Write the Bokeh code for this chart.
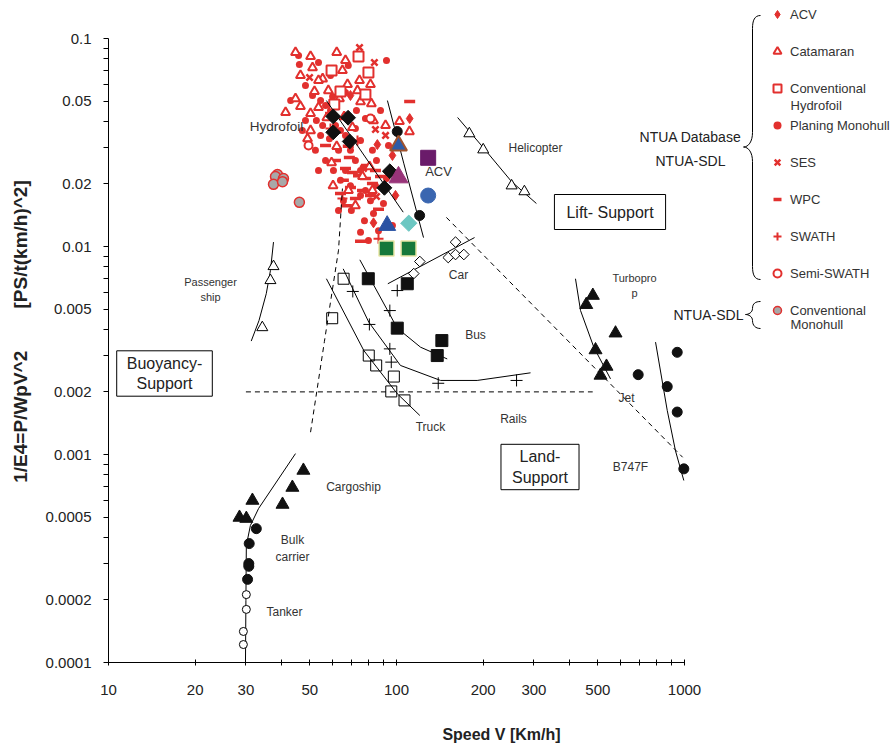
import math
from bokeh.plotting import figure
from bokeh.models import Range1d, LinearScale, Label, Legend, LegendItem, FixedTicker
from bokeh.embed import file_html
from bokeh.resources import INLINE

FONT = "Liberation Sans"
RED = "#E2302E"
INK = "#333333"

# ---------------- axis ticks ----------------
x_ticks = [10, 20, 30, 40, 50, 60, 70, 80, 90, 100, 200, 300, 400, 500, 600, 700, 800, 900, 1000]
x_tick_labels = ["10", "20", "30", "", "50", "", "", "", "", "100", "200", "300", "", "500", "", "", "", "", "1000"]
y_ticks = [0.0001, 0.0002, 0.0003, 0.0004, 0.0005, 0.0006, 0.0007, 0.0008, 0.0009,
           0.001, 0.002, 0.003, 0.004, 0.005, 0.006, 0.007, 0.008, 0.009,
           0.01, 0.02, 0.03, 0.04, 0.05, 0.06, 0.07, 0.08, 0.09, 0.1]
y_tick_labels = ["0.0001", "0.0002", "", "", "0.0005", "", "", "", "",
                 "0.001", "0.002", "", "", "0.005", "", "", "", "",
                 "0.01", "0.02", "", "", "0.05", "", "", "", "", "0.1"]

# ---------------- NTUA database (red) ----------------
cat_x = [44.6, 50.3, 62.0, 51.1, 64.9, 74.4, 81.2, 51.9, 67.6, 44.6, 41.2, 50.3, 53.6, 75.0, 81.8, 73.2, 83.2,
         50.3, 102.4, 110.9, 59.5, 80.6, 68.1, 46.4, 55.4, 58.0, 46.4, 65.8, 70.3, 49.1, 62.0, 57.3, 76.2, 82.5,
         72.0, 60.2, 53.6, 66.5, 91.6, 63.4]
cat_y = [0.0857, 0.0820, 0.0857, 0.0724, 0.0702, 0.0628, 0.0601, 0.0556, 0.0601, 0.0514, 0.0441, 0.0436, 0.0466,
         0.0497, 0.0486, 0.0562, 0.0403, 0.0361, 0.0399, 0.0357, 0.0253, 0.0242, 0.0186, 0.0664, 0.0640, 0.0562,
         0.0471, 0.0421, 0.0374, 0.0330, 0.0303, 0.0416, 0.0217, 0.0186, 0.0157, 0.0196, 0.0628, 0.0784, 0.0382,
         0.0514]
pla_x = [45.7, 46.0, 53.6, 92.3, 48.3, 51.1, 54.5, 56.7, 59.0, 52.7, 55.4, 61.4, 63.9, 58.5, 66.5, 69.2, 62.9,
         52.3, 56.7, 72.0, 75.0, 66.5, 60.4, 63.9, 69.2, 78.0, 84.5, 75.0, 65.4, 81.2, 90.1, 77.4, 69.7, 83.2,
         86.6, 75.0, 96.8, 97.6, 82.5, 75.0, 78.0, 72.6, 59.0, 66.5, 60.0, 88.0, 93.8, 68.0, 54.5, 48.3, 62.9,
         92.3, 79.9, 42.9, 47.1, 85.2, 53.6, 72.0]
pla_y = [0.0829, 0.0750, 0.0767, 0.0784, 0.0594, 0.0532, 0.0503, 0.0476, 0.0451, 0.0403, 0.0382, 0.0382, 0.0361,
         0.0330, 0.0342, 0.0290, 0.0290, 0.0290, 0.0259, 0.0259, 0.0232, 0.0232, 0.0232, 0.0208, 0.0196, 0.0186,
         0.0196, 0.0176, 0.0166, 0.0166, 0.0161, 0.0133, 0.0149, 0.0144, 0.0119, 0.0117, 0.0126, 0.0227, 0.0290,
         0.0323, 0.0412, 0.0451, 0.0664, 0.0550, 0.0526, 0.0451, 0.0306, 0.0742, 0.0342, 0.0403, 0.0149, 0.0212,
         0.0107, 0.0503, 0.0361, 0.0259, 0.0232, 0.0369]
wpc_x = [111.1, 86.6, 75.0, 67.0, 66.5, 70.3, 73.8, 78.0, 65.4, 69.2, 76.2, 81.2, 63.9, 72.0, 82.5, 61.4, 78.6,
         68.6, 84.5, 88.0, 68.0, 59.0, 56.7]
wpc_y = [0.0498, 0.0151, 0.0106, 0.0157, 0.0237, 0.0227, 0.0219, 0.0212, 0.0208, 0.0192, 0.0186, 0.0176, 0.0180,
         0.0170, 0.0201, 0.0259, 0.0245, 0.0268, 0.0232, 0.0217, 0.0303, 0.0436, 0.0306]
acv_x = [111.1, 85.8, 83.2, 96.8, 99.2, 69.2]
acv_y = [0.0412, 0.0309, 0.0130, 0.0274, 0.0176, 0.0532]
ses_x = [74.4, 83.8, 49.9, 84.5, 91.6, 76.8, 85.2]
ses_y = [0.0905, 0.0767, 0.0649, 0.0365, 0.0342, 0.0237, 0.0174]
hyd_x = [73.8, 59.5, 79.9, 63.9, 78.0, 60.8]
hyd_y = [0.0820, 0.0702, 0.0686, 0.0556, 0.0538, 0.0482]
swath_x = [73.2, 64.9, 86.6, 59.0]
swath_y = [0.0323, 0.0170, 0.0109, 0.0369]
semi_x = [49.5, 81.2]
semi_y = [0.0306, 0.0412]
mono_x = [38.6, 38.0, 40.5, 37.4, 40.2, 46.0]
mono_y = [0.0222, 0.0217, 0.0212, 0.0199, 0.0205, 0.0163]

# ---------------- hydrofoil / ACV references ----------------
hf_line_x = [57.1, 105.5]
hf_line_y = [0.0503, 0.01462]
hf_pts_x = [60.3, 67.9, 60.3, 68.8, 94.8, 90.8]
hf_pts_y = [0.0422, 0.0416, 0.0354, 0.0320, 0.0230, 0.01915]
acvl_x = [93.0, 106.1, 124.1]
acvl_y = [0.0503, 0.02497, 0.01104]
acvp_x = [100.6, 120.3]
acvp_y = [0.0357, 0.0141]

# ---------------- other transport modes ----------------
heli_line_x = [163, 200, 251, 306]
heli_line_y = [0.0417, 0.0299, 0.0205, 0.0161]
heli_x = [179, 200, 251, 278]
heli_y = [0.0349, 0.0292, 0.0196, 0.01837]
car_line_x = [93.3, 186.6]
car_line_y = [0.00662, 0.01104]
car_x = [114.8, 120.5, 151.2, 160.3, 160.3, 171.3]
car_y = [0.00741, 0.00847, 0.00885, 0.0105, 0.00915, 0.00915]
bus_line_x = [74.6, 100.6, 121.2, 150.0]
bus_line_y = [0.00863, 0.00405, 0.00328, 0.00288]
bus_x = [79.8, 100.6, 109.0, 143.7, 138.5]
bus_y = [0.0070, 0.00405, 0.00662, 0.00353, 0.00299]
truck_line_x = [57.1, 77.0, 100.6, 120.5]
truck_line_y = [0.0070, 0.00316, 0.00196, 0.00154]
truck_x = [65.5, 59.8, 80.1, 85.0, 97.9, 95.9, 106.6]
truck_y = [0.0070, 0.00452, 0.00299, 0.00268, 0.00237, 0.00201, 0.00182]
rail_line_x = [65.3, 80.1, 103.2, 142.2, 190.6, 292.0]
rail_line_y = [0.00781, 0.00433, 0.00268, 0.00227, 0.00227, 0.00247]
rail_x = [70.5, 80.5, 94.8, 95.9, 94.8, 100.6, 139.6, 261.1]
rail_y = [0.00608, 0.00422, 0.00322, 0.00278, 0.00492, 0.00614, 0.0022, 0.00227]
pass_line_x = [31.3, 33.3, 35.3, 36.5, 37.4]
pass_line_y = [0.00351, 0.0044, 0.00593, 0.00767, 0.0105]
pass_x = [37.4, 36.5, 34.2]
pass_y = [0.00802, 0.00687, 0.00408]
ship_line_x = [29.9, 30.0, 30.1, 31.1, 33.2, 44.6]
ship_line_y = [0.000102, 0.000199, 0.000365, 0.000456, 0.00055, 0.00101]
tank_x = [30.1, 30.1, 29.4, 29.4]
tank_y = [0.000212, 0.00018, 0.000141, 0.000122]
bulk_x = [32.6, 30.8, 30.7, 30.7, 30.4]
bulk_y = [0.00044, 0.000373, 0.000299, 0.00029, 0.000251]
cargo_x = [28.5, 30.1, 31.6, 40.2, 43.5, 47.5]
cargo_y = [0.000498, 0.000492, 0.000601, 0.000575, 0.000694, 0.000838]
turbo_line_x = [418.2, 435.5, 484.2, 553.4]
turbo_line_y = [0.0070, 0.00492, 0.00328, 0.00231]
turbo_x = [480.5, 455.8, 576.0, 490.9, 535.9, 510.9]
turbo_y = [0.00581, 0.00525, 0.00383, 0.00318, 0.00265, 0.0024]
jet_line_x = [793.2, 870.9, 930.6, 994.5]
jet_line_y = [0.00347, 0.00163, 0.00104, 0.00075]
jet_x = [943.3, 690.5, 870.9, 943.3, 994.5]
jet_y = [0.0031, 0.00242, 0.00212, 0.0016, 0.000853]

# ---------------- regime boundaries ----------------
buoy_x = [50.3, 56.2, 62.9, 64.9]
buoy_y = [0.00128, 0.0035, 0.0096, 0.019]
land_x = [30, 480]
land_y = [0.002, 0.002]
lift_x = [149, 985]
lift_y = [0.0138, 0.00097]

# ---------------- special craft ----------------
sp_tri_x = [101.6]
sp_tri_y = [0.0306]
sp_sq_x = [128.8]
sp_sq_y = [0.0267]
sp_mtri_x = [101.6]
sp_mtri_y = [0.0215]
sp_circ_x = [128.8]
sp_circ_y = [0.01758]
sp_dia_x = [110.3]
sp_dia_y = [0.01294]
sp_btri_x = [92.8]
sp_btri_y = [0.01262]
sp_green_x = [92.3, 110.1]
sp_green_y = [0.00978, 0.00978]

p = figure(width=894, height=745, x_axis_type="log", y_axis_type="log",
           x_range=Range1d(10, 5359), y_range=Range1d(0.0001, 0.1523),
           output_backend="svg", toolbar_location=None, title=None,
           min_border_left=108, min_border_right=0, min_border_top=0, min_border_bottom=83)
p.outline_line_color = None
p.xgrid.visible = False
p.ygrid.visible = False
p.background_fill_color = "white"

# pixel-space range for annotations (page coordinates)
p.extra_x_ranges = {"px": Range1d(108, 894)}
p.extra_y_ranges = {"px": Range1d(662, 0)}
p.extra_x_scales = {"px": LinearScale()}
p.extra_y_scales = {"px": LinearScale()}

xa = p.xaxis[0]
xa.ticker = FixedTicker(ticks=x_ticks)
xa.major_label_overrides = dict(zip(x_ticks, x_tick_labels))
xa.bounds = (10, 1000)
xa.minor_tick_line_color = None
xa.major_tick_in = 3
xa.major_tick_out = 3
xa.major_label_standoff = 19
xa.major_label_text_font = FONT
xa.major_label_text_font_size = "15px"
xa.major_label_text_color = "#222222"
xa.axis_label = "Speed V [Km/h]"
xa.axis_label_text_font = FONT
xa.axis_label_text_font_size = "16px"
xa.axis_label_text_font_style = "bold"
xa.axis_label_text_color = "#222222"
xa.axis_label_standoff = 28

NB = "\u00a0"
ya = p.yaxis[0]
ya.ticker = FixedTicker(ticks=y_ticks)
ya.major_label_overrides = dict(zip(y_ticks, y_tick_labels))
ya.bounds = (0.0001, 0.1)
ya.minor_tick_line_color = None
ya.major_tick_in = 0
ya.major_tick_out = 5
ya.major_label_standoff = 12
ya.major_label_text_font = FONT
ya.major_label_text_font_size = "15px"
ya.major_label_text_color = "#222222"
ya.axis_label = "1/E4=P/WpV^2" + NB * 7 + " [PS/t(km/h)^2]"
ya.axis_label_text_font = FONT
ya.axis_label_text_font_size = "19px"
ya.axis_label_text_font_style = "bold"
ya.axis_label_text_color = "#222222"
ya.axis_label_standoff = 12

D45 = math.pi / 4

# ---- red NTUA database points ----
r_pla = p.scatter(pla_x, pla_y, marker="circle", size=7, fill_color=RED, line_color=None)
r_wpc = p.scatter(wpc_x, wpc_y, marker="dash", size=11, line_color=RED, line_width=3.5)
r_cat = p.scatter(cat_x, cat_y, marker="triangle", size=9, fill_color="white", line_color=RED, line_width=2)
r_hyd = p.scatter(hyd_x, hyd_y, marker="square", size=10, fill_color="white", line_color=RED, line_width=2)
r_ses = p.scatter(ses_x, ses_y, marker="x", size=9, line_color=RED, line_width=2.5)
r_swath = p.scatter(swath_x, swath_y, marker="cross", size=10, line_color=RED, line_width=2)
r_semi = p.scatter(semi_x, semi_y, marker="circle", size=8, fill_color="white", line_color=RED, line_width=2)
r_acv = p.scatter(acv_x, acv_y, marker="diamond", size=10, fill_color=RED, line_color=RED)
r_mono = p.scatter(mono_x, mono_y, marker="circle", size=10, fill_color="#A8A8A8", line_color=RED, line_width=1.5)

# ---- boundaries ----
p.line(buoy_x, buoy_y, line_color="black", line_width=1, line_dash="5 4")
p.line(land_x, land_y, line_color="black", line_width=1, line_dash="5 4")
p.line(lift_x, lift_y, line_color="black", line_width=1, line_dash="5 4")

# ---- trend lines ----
for lx, ly in [(hf_line_x, hf_line_y), (acvl_x, acvl_y), (heli_line_x, heli_line_y), (car_line_x, car_line_y),
               (bus_line_x, bus_line_y), (truck_line_x, truck_line_y), (rail_line_x, rail_line_y),
               (pass_line_x, pass_line_y), (ship_line_x, ship_line_y), (turbo_line_x, turbo_line_y),
               (jet_line_x, jet_line_y)]:
    p.line(lx, ly, line_color="black", line_width=1)

# ---- black reference markers ----
p.scatter(hf_pts_x, hf_pts_y, marker="square", angle=D45, size=10.5, fill_color="#111111", line_color="#111111")
p.scatter(acvp_x, acvp_y, marker="circle", size=10, fill_color="#111111", line_color="#111111")
p.scatter(heli_x, heli_y, marker="triangle", size=11, fill_color="white", line_color="black")
p.scatter(car_x, car_y, marker="square", angle=D45, size=7.5, fill_color="white", line_color="black")
p.scatter(bus_x, bus_y, marker="square", size=12, fill_color="#111111", line_color="#111111")
p.scatter(truck_x, truck_y, marker="square", size=11, fill_color=None, line_color="black")
p.scatter(rail_x, rail_y, marker="cross", size=12, line_color="black")
p.scatter(pass_x, pass_y, marker="triangle", size=11, fill_color="white", line_color="black")
p.scatter(tank_x, tank_y, marker="circle", size=8, fill_color="white", line_color="black")
p.scatter(bulk_x, bulk_y, marker="circle", size=10, fill_color="#111111", line_color="#111111")
p.scatter(cargo_x, cargo_y, marker="triangle", size=13, fill_color="#111111", line_color="#111111")
p.scatter(turbo_x, turbo_y, marker="triangle", size=13, fill_color="#111111", line_color="#111111")
p.scatter(jet_x, jet_y, marker="circle", size=10, fill_color="#111111", line_color="#111111")

# ---- special craft ----
p.scatter(sp_tri_x, sp_tri_y, marker="triangle", size=17, fill_color="#2E5BA6", line_color="#A0522D", line_width=2)
p.scatter(sp_sq_x, sp_sq_y, marker="square", size=15, fill_color="#6A1B6A", line_color="#6A1B6A")
p.scatter(sp_mtri_x, sp_mtri_y, marker="triangle", size=19, fill_color="#983479", line_color="#983479")
p.scatter(sp_circ_x, sp_circ_y, marker="circle", size=15, fill_color="#3A66B0", line_color="#3A66B0")
p.scatter(sp_dia_x, sp_dia_y, marker="square", angle=D45, size=11.5, fill_color="#6CC7C2", line_color="#6CC7C2")
p.scatter(sp_btri_x, sp_btri_y, marker="triangle", size=17, fill_color="#2A52A3", line_color="#2A52A3")
p.scatter(sp_green_x, sp_green_y, marker="square", size=15, fill_color="#16783A", line_color="#E9E6A6", line_width=1.5)

# ---- text annotations (page pixel space) ----
def lab(x, y, text, size="12px", align="center", color=INK, **kw):
    p.add_layout(Label(x=x, y=y, x_range_name="px", y_range_name="px", text=text,
                       text_font=FONT, text_font_size=size, text_color=color,
                       text_align=align, text_baseline="middle", **kw))

lab(276, 126, "Hydrofoil", size="13.5px")
lab(438, 171, "ACV", size="13px")
lab(535, 147, "Helicopter")
lab(458, 274, "Car")
lab(210, 289, "Passenger\nship", size="11px")
lab(475, 334, "Bus")
lab(430, 426, "Truck")
lab(513, 418, "Rails")
lab(634, 285, "Turbopro\np", size="11px")
lab(626, 397, "Jet")
lab(630, 466, "B747F", size="12px")
lab(353, 486, "Cargoship", size="12px")
lab(292, 548, "Bulk\ncarrier", size="12px")
lab(284, 611, "Tanker", size="12px")

box = dict(border_line_color="black", border_line_width=1, background_fill_color="white")
lab(609.5, 211.5, "Lift- Support", size="16px", color="#222222",
    padding=dict(left=12, right=12, top=9, bottom=9), **box)
lab(164, 373, "Buoyancy-\nSupport", size="16px", color="#222222",
    padding=dict(left=10, right=10, top=4, bottom=4), **box)
lab(539.5, 466.5, "Land-\nSupport", size="16px", color="#222222",
    padding=dict(left=11, right=11, top=4, bottom=4), **box)

lab(690, 148, "NTUA Database\nNTUA-SDL", size="14px", color="#222222", text_line_height=1.5)
lab(743, 314, "NTUA-SDL", size="14px", align="right", color="#222222")
lab(790, 105, "Hydrofoil", size="13px", align="left")
lab(790, 324, "Monohull", size="13px", align="left")

# ---- braces ----
bz = dict(x_range_name="px", y_range_name="px", line_color="black", line_width=1)
p.bezier(x0=[760, 752, 743, 752], y0=[15, 132, 146.5, 266], x1=[752, 743, 752, 760], y1=[28, 146.5, 161, 279],
         cx0=[754, 752, 748, 752], cy0=[15, 141, 146.5, 274], cx1=[752, 748, 752, 754], cy1=[20, 146.5, 152, 279], **bz)
p.segment(x0=[752, 752], y0=[28, 161], x1=[752, 752], y1=[132, 266], **bz)
p.bezier(x0=[760, 752, 745, 752], y0=[301, 308, 314, 320], x1=[752, 745, 752, 760], y1=[308, 314, 320, 328],
         cx0=[755, 752, 748, 752], cy0=[301, 312, 314, 325], cx1=[752, 748, 752, 755], cy1=[303, 314, 316, 328], **bz)

# ---- legend ----
legend = Legend(items=[
    LegendItem(label="ACV", renderers=[r_acv]),
    LegendItem(label="Catamaran", renderers=[r_cat]),
    LegendItem(label="Conventional", renderers=[r_hyd]),
    LegendItem(label="Planing Monohull", renderers=[r_pla]),
    LegendItem(label="SES", renderers=[r_ses]),
    LegendItem(label="WPC", renderers=[r_wpc]),
    LegendItem(label="SWATH", renderers=[r_swath]),
    LegendItem(label="Semi-SWATH", renderers=[r_semi]),
    LegendItem(label="Conventional", renderers=[r_mono]),
], location=(659, 342), border_line_color=None, background_fill_alpha=0,
   label_text_font=FONT, label_text_font_size="13px", label_text_color=INK,
   glyph_width=20, glyph_height=20, label_height=20, spacing=17, label_standoff=3,
   padding=0, margin=0)
p.add_layout(legend)

open("out.html", "w").write(file_html(p, INLINE))
